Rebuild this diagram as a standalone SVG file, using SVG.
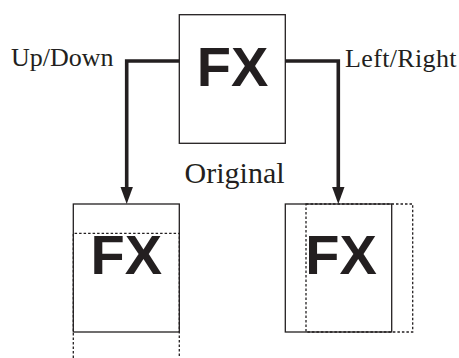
<svg xmlns="http://www.w3.org/2000/svg" width="459" height="358" viewBox="0 0 459 358">
<defs>
<style>
.box{fill:#fff;stroke:#231f20;stroke-width:1.3}
.dot{fill:none;stroke:#231f20;stroke-width:1.3;stroke-dasharray:2.5 2}
.fx{font-family:"Liberation Sans",Arial,sans-serif;font-weight:bold;font-size:56px;fill:#231f20;text-anchor:middle}
.lbl{font-family:"Liberation Serif","Times New Roman",serif;font-size:26px;fill:#231f20}
.big{font-size:30px;text-anchor:middle}
.conn{fill:none;stroke:#231f20;stroke-width:3.6}
.head{fill:#231f20}
</style>
</defs>
<g id="original">
<rect class="box" x="179.3" y="14.7" width="106" height="128.6"/>
<text class="fx" x="232.6" y="86">FX</text>
<text class="lbl big" x="234.6" y="183.3">Original</text>
</g>
<g id="updown">
<rect class="box" x="73.3" y="204" width="106" height="128"/>
<path class="dot" d="M73.3,358 V233.3 H179.3 V358"/>
<text class="fx" x="126.3" y="274.3">FX</text>
</g>
<g id="leftright">
<rect class="box" x="285.3" y="204" width="106.4" height="128"/>
<rect class="dot" x="306" y="204" width="106.7" height="128"/>
<text class="fx" x="341" y="274">FX</text>
</g>
<g id="labels">
<text class="lbl" x="11" y="66">Up/Down</text>
<text class="lbl" x="345" y="66.7" textLength="111.5">Left/Right</text>
</g>
<g id="connectors">
<path class="conn" d="M179.3,61 H126.7 V190"/>
<path class="head" d="M120.5,187 L132.9,187 L126.7,204 z"/>
<path class="conn" d="M285.3,61 H338.3 V190"/>
<path class="head" d="M332.1,187 L344.5,187 L338.3,204 z"/>
</g>
</svg>
